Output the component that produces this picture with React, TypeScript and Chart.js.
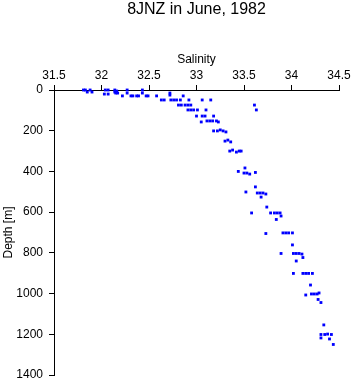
import React, { useEffect, useRef } from "react";
import { Chart, registerables } from "chart.js";

Chart.register(...registerables);

const TITLE = "8JNZ in June, 1982";
const X_LABEL = "Salinity";
const Y_LABEL = "Depth [m]";

const salinity: number[] = [
  31.81, 31.83, 31.85, 31.88, 31.9, 32.04, 32.07, 32.03, 32.07, 32.14,
  32.16, 32.15, 32.17, 32.14, 32.22, 32.27, 32.27, 32.31, 32.33, 32.37,
  32.39, 32.43, 32.43, 32.47, 32.49, 32.58, 32.72, 32.72, 32.86, 32.63,
  32.66, 32.73, 32.76, 32.79, 32.83, 32.92, 33.06, 33.15, 32.81, 32.84,
  32.88, 32.91, 32.94, 32.91, 32.94, 32.97, 33.01, 33.1, 33.0, 33.06,
  33.09, 33.18, 33.05, 33.11, 33.14, 33.17, 33.21, 33.23, 33.18, 33.22,
  33.25, 33.28, 33.31, 33.3, 33.33, 33.36, 33.35, 33.38, 33.42, 33.45,
  33.47, 33.61, 33.63, 33.51, 33.44, 33.5, 33.53, 33.56, 33.62, 33.62,
  33.52, 33.64, 33.67, 33.7, 33.73, 33.68, 33.74, 33.58, 33.78, 33.82,
  33.85, 33.88, 33.89, 33.84, 33.73, 33.91, 33.94, 33.97, 34.01, 34.01,
  33.89, 34.02, 34.05, 34.08, 34.11, 34.12, 34.05, 34.02, 34.12, 34.15,
  34.18, 34.22, 34.2, 34.15, 34.21, 34.24, 34.27, 34.29, 34.28, 34.31,
  34.34, 34.31, 34.35, 34.38, 34.42, 34.31, 34.4, 34.44,
];

const depth: number[] = [
  0, 0, 10, 0, 10, 0, 0, 20, 20, 0,
  5, 15, 15, 10, 29, 0, 15, 29, 29, 29,
  29, 0, 15, 29, 29, 29, 25, 15, 29, 49,
  49, 49, 49, 49, 49, 49, 49, 49, 74, 74,
  74, 74, 74, 98, 98, 98, 98, 98, 128, 128,
  128, 128, 157, 152, 152, 152, 152, 157, 201, 201,
  196, 201, 206, 251, 246, 255, 300, 295, 305, 300,
  300, 74, 98, 383, 400, 408, 408, 413, 405, 476,
  501, 506, 506, 506, 511, 526, 575, 604, 604, 604,
  604, 604, 619, 636, 705, 702, 702, 702, 702, 761,
  803, 803, 803, 803, 806, 823, 840, 901, 901, 901,
  901, 901, 958, 1007, 1002, 1002, 1002, 997, 1029, 1044,
  1154, 1201, 1201, 1199, 1201, 1218, 1223, 1250,
];

const X_MIN = 31.5;
const X_MAX = 34.5;
const X_STEP = 0.5;
const Y_MIN = 0;
const Y_MAX = 1400;
const Y_STEP = 200;

const FONT = "'Liberation Sans', Arial, Helvetica, sans-serif";

export default function App() {
  const ref = useRef<HTMLCanvasElement | null>(null);

  useEffect(() => {
    if (!ref.current) return;
    const points = salinity.map((s, i) => ({ x: s, y: depth[i] }));

    const titlePlugin = {
      id: "plotTitle",
      afterDraw(chart: any) {
        const { ctx, chartArea } = chart;
        ctx.save();
        ctx.fillStyle = "#000";
        ctx.font = `16px ${FONT}`;
        ctx.textAlign = "center";
        ctx.textBaseline = "alphabetic";
        ctx.fillText(TITLE, (chartArea.left + chartArea.right) / 2, 14);
        ctx.restore();
      },
    };

    const chart = new Chart(ref.current, {
      type: "scatter",
      data: {
        datasets: [
          {
            data: points,
            pointStyle: "rect",
            pointRadius: 2,
            pointHoverRadius: 2,
            pointBackgroundColor: "#0000ff",
            pointBorderWidth: 0,
            borderWidth: 0,
            clip: false as any,
          },
        ],
      },
      options: {
        responsive: false,
        animation: false,
        events: [],
        layout: { padding: { top: 0, left: 0, right: 14, bottom: 9 } },
        plugins: {
          legend: { display: false },
          tooltip: { enabled: false },
          title: { display: false },
        },
        scales: {
          x: {
            type: "linear",
            position: "top",
            min: X_MIN,
            max: X_MAX,
            afterFit(scale: any) {
              scale.height = 90;
              scale.paddingLeft = 0;
              scale.paddingRight = 0;
            },
            ticks: {
              stepSize: X_STEP,
              color: "#000",
              font: { family: FONT, size: 12 },
              padding: 2,
              maxRotation: 0,
              callback: (v: any) => String(v),
            },
            grid: {
              drawOnChartArea: false,
              drawTicks: true,
              tickLength: 5,
              tickColor: "#000",
              color: "#000",
            },
            border: { display: true, color: "#000", width: 1 },
            title: {
              display: true,
              text: X_LABEL,
              color: "#000",
              font: { family: FONT, size: 12 },
              padding: { top: 52, bottom: 0 },
            },
          },
          y: {
            type: "linear",
            position: "left",
            reverse: true,
            min: Y_MIN,
            max: Y_MAX,
            afterFit(scale: any) {
              scale.width = 54;
              scale.paddingTop = 0;
              scale.paddingBottom = 0;
            },
            ticks: {
              stepSize: Y_STEP,
              color: "#000",
              font: { family: FONT, size: 12 },
              padding: 6,
              callback: (v: any) => String(v),
            },
            grid: {
              drawOnChartArea: false,
              drawTicks: true,
              tickLength: 5,
              tickColor: "#000",
              color: "#000",
            },
            border: { display: true, color: "#000", width: 1 },
            title: {
              display: true,
              text: Y_LABEL,
              color: "#000",
              font: { family: FONT, size: 12 },
              padding: { top: 1, bottom: 0 },
            },
          },
        },
      },
      plugins: [titlePlugin],
    });

    return () => chart.destroy();
  }, []);

  return (
    <div style={{ position: "fixed", left: 0, top: 0, width: 353, height: 384, background: "#fff" }}>
      <canvas ref={ref} width={353} height={384} style={{ display: "block", width: 353, height: 384 }} />
    </div>
  );
}
